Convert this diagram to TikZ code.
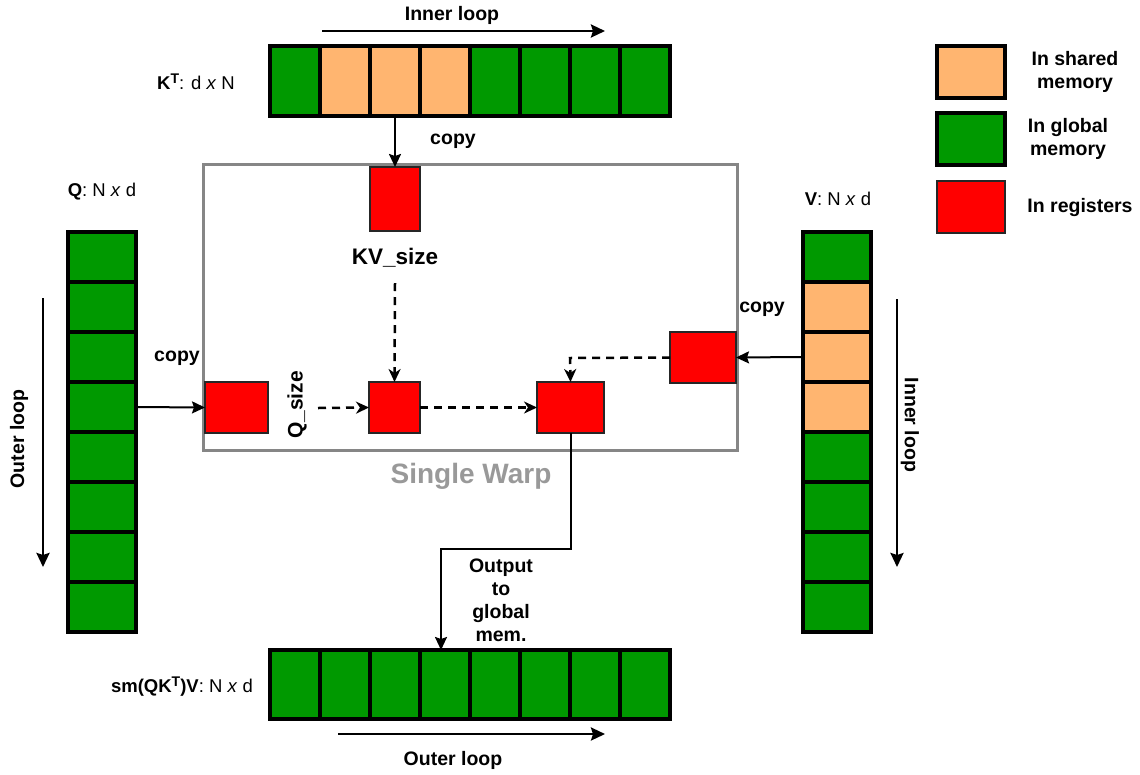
\documentclass[tikz,border=0pt]{standalone}
\usepackage{fontspec}
\setmainfont{Liberation Sans}
\usetikzlibrary{arrows.meta}
\definecolor{gmem}{HTML}{009900}
\definecolor{smem}{HTML}{FFB570}
\definecolor{reg}{HTML}{FF0000}
\definecolor{warp}{HTML}{868686}
\definecolor{warptext}{HTML}{999999}
\newcommand{\supT}{\raisebox{6pt}{\fontsize{14}{14}\selectfont\bfseries T}}
\tikzset{
  cell/.style={draw=black, line width=4pt, inner sep=0pt, outer sep=0pt},
  regbox/.style={draw=black!85, line width=2pt, fill=reg, inner sep=0pt, outer sep=0pt},
  lbl/.style={font=\fontsize{19.5}{23}\selectfont\bfseries, align=center, inner sep=1pt},
  mlbl/.style={font=\fontsize{18.5}{21}\selectfont, inner sep=1pt},
  arr/.style={line width=2pt, -{Stealth[length=13pt,width=12pt,inset=2pt]}},
  looparr/.style={line width=2.5pt, -{Stealth[length=14pt,width=13pt,inset=2pt]}},
  darr/.style={line width=2.5pt, dash pattern=on 8pt off 6pt, -{Stealth[length=13pt,width=12pt,inset=4pt]}},
}
\begin{document}
\begin{tikzpicture}[x=1pt,y=-1pt]
\useasboundingbox (0,0) rectangle (1140,774);
% K^T bar
\foreach \i/\c in {1/gmem,2/smem,3/smem,4/smem,5/gmem,6/gmem,7/gmem,8/gmem}
  \node[cell, fill=\c, minimum width=50pt, minimum height=70pt] (k\i) at ({245+50*\i},81) {};
\node[mlbl, anchor=east] (klbl) at (236,82) {\textbf{K\supT}: d \textit{x} N};
\coordinate (ils) at (322,31);
\coordinate (ile) at (605,31);
\draw[looparr] (ils) -- (ile);
\node[lbl] (iltop) at (452,15) {Inner loop};

% Q bar
\foreach \i in {1,...,8}
  \node[cell, fill=gmem, minimum width=68pt, minimum height=50pt] (q\i) at (102,{207+50*\i}) {};
\node[mlbl] (qlbl) at (102,192) {\textbf{Q}: N \textit{x} d};
\coordinate (ols) at (43,298);
\coordinate (ole) at (43,567);
\draw[looparr] (ols) -- (ole);
\node[lbl, rotate=90] (olleft) at (19,439) {Outer loop};

% V bar
\foreach \i/\c in {1/gmem,2/smem,3/smem,4/smem,5/gmem,6/gmem,7/gmem,8/gmem}
  \node[cell, fill=\c, minimum width=68pt, minimum height=50pt] (v\i) at (837,{207+50*\i}) {};
\node[mlbl] (vlbl) at (838,199) {\textbf{V}: N \textit{x} d};
\coordinate (vls) at (897,299);
\coordinate (vle) at (897,567);
\draw[looparr] (vls) -- (vle);
\node[lbl, rotate=-90] (ilright) at (910,425) {Inner loop};

% output bar
\foreach \i in {1,...,8}
  \node[cell, fill=gmem, minimum width=50pt, minimum height=69pt] (o\i) at ({245+50*\i},684.5) {};
\node[mlbl, anchor=east] (olbl) at (254,687) {\textbf{sm(QK\supT)V}: N \textit{x} d};
\coordinate (obs) at (338,734);
\coordinate (obe) at (605,734);
\draw[looparr] (obs) -- (obe);
\node[lbl] (olbottom) at (453,760) {Outer loop};

% warp
\node[draw=warp, line width=3pt, minimum width=534pt, minimum height=286pt, inner sep=0pt] (warpbox) at (470,307) {};
\node[font=\fontsize{28}{30}\selectfont\bfseries, text=warptext] (warplbl) at (471,476) {Single Warp};

\node[regbox, minimum width=50pt, minimum height=64pt] (kvreg) at (395,199) {};
\node[regbox, minimum width=63pt, minimum height=51pt] (qreg) at (236.5,407.5) {};
\node[regbox, minimum width=51pt, minimum height=51pt] (mreg) at (394.5,407.5) {};
\node[regbox, minimum width=67pt, minimum height=51pt] (oreg) at (570.5,407.5) {};
\node[regbox, minimum width=66pt, minimum height=51pt] (vreg) at (703,357.5) {};

\node[font=\fontsize{22.5}{24}\selectfont\bfseries] (kvsize) at (395,258) {KV\_size};
\node[font=\fontsize{21}{24}\selectfont\bfseries, rotate=90] (qsize) at (297,405) {Q\_size};
\coordinate (kvs) at (395,283);
\coordinate (qss) at (318,408);
\coordinate (vbend) at (570,358);

% copies
\draw[arr] (k3.south) -- (kvreg.north);
\node[lbl] (copyk) at (453,141) {copy};
\draw[arr] (q4.east) -- (qreg.west);
\node[lbl] (copyq) at (177,358) {copy};
\draw[arr] (v3.west) -- (vreg.east);
\node[lbl] (copyv) at (762,309) {copy};

% dashed flows
\draw[darr] (kvs) -- (mreg.north);
\draw[darr] (qss) -- (mreg.west);
\draw[darr] (mreg.east) -- (oreg.west);
\draw[darr] (vreg.west) -- (vbend) -- (oreg.north);

% output
\draw[arr] (oreg.south) -- ++(0,116) -| ([xshift=-4pt]o4.north);
\node[lbl] (outlbl) at (501,600) {Output\\to\\global\\mem.};

% legend
\node[cell, fill=smem, minimum width=68pt, minimum height=52pt] (legs) at (971,72) {};
\node[cell, fill=gmem, minimum width=68pt, minimum height=52pt] (legg) at (971,139) {};
\node[regbox, minimum width=68pt, minimum height=52pt] (legr) at (971,207) {};
\node[lbl] (legst) at (1075,72) {In shared\\memory};
\node[lbl] (leggt) at (1068,139) {In global\\memory};
\node[lbl] (legrt) at (1080,207) {In registers};
\end{tikzpicture}
\end{document}
